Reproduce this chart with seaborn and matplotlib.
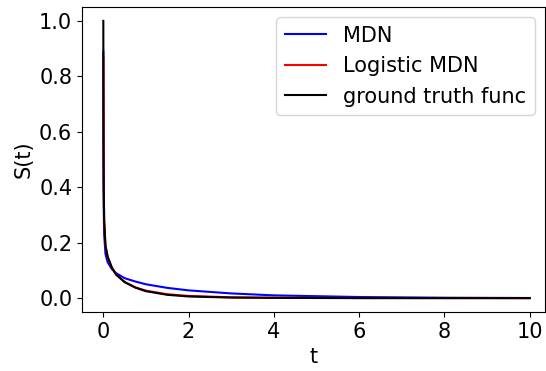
import matplotlib
matplotlib.use("Agg")
from matplotlib import pyplot as plt
import seaborn as sns
import pandas as pd

# values
t = [0, 0.005, 0.01, 0.02, 0.05, 0.1, 0.2, 0.3, 0.5, 0.75, 1.0, 1.5, 2, 3, 4, 6, 8, 10]
s_mdn = [0.89, 0.45, 0.32, 0.23, 0.16, 0.13, 0.105, 0.09, 0.072, 0.06, 0.05, 0.037, 0.028,
         0.017, 0.01, 0.004, 0.0015, 0.0005]
s_logistic = [0.87, 0.52, 0.39, 0.28, 0.19, 0.15, 0.11, 0.085, 0.058, 0.039, 0.027, 0.014,
              0.008, 0.003, 0.0015, 0.0005, 0.0002, 0.0001]
s_truth = [1.0, 0.55, 0.40, 0.28, 0.19, 0.15, 0.11, 0.085, 0.058, 0.038, 0.025, 0.012,
           0.006, 0.002, 0.001, 0.0, 0.0, 0.0]

labels = ["MDN", "Logistic MDN", "ground truth func"]
colors = ["blue", "red", "black"]

df = pd.concat([
    pd.DataFrame({"t": t, "S": s, "model": lab})
    for s, lab in zip([s_mdn, s_logistic, s_truth], labels)
])

plt.rcParams["font.size"] = 15
fig, ax = plt.subplots(figsize=(5.46, 3.71), dpi=100)
sns.lineplot(data=df, x="t", y="S", hue="model", palette=colors, hue_order=labels,
             linewidth=1.5, ax=ax)
ax.set_xlabel("t")
ax.set_ylabel("S(t)")
ax.set_xticks([0, 2, 4, 6, 8, 10])
ax.set_xlim(-0.5, 10.36)
ax.set_ylim(-0.05, 1.05)
ax.legend(loc="upper right")
fig.subplots_adjust(left=82 / 546, right=545 / 546, top=1 - 7 / 371, bottom=1 - 312 / 371)
fig.savefig("out.png")
